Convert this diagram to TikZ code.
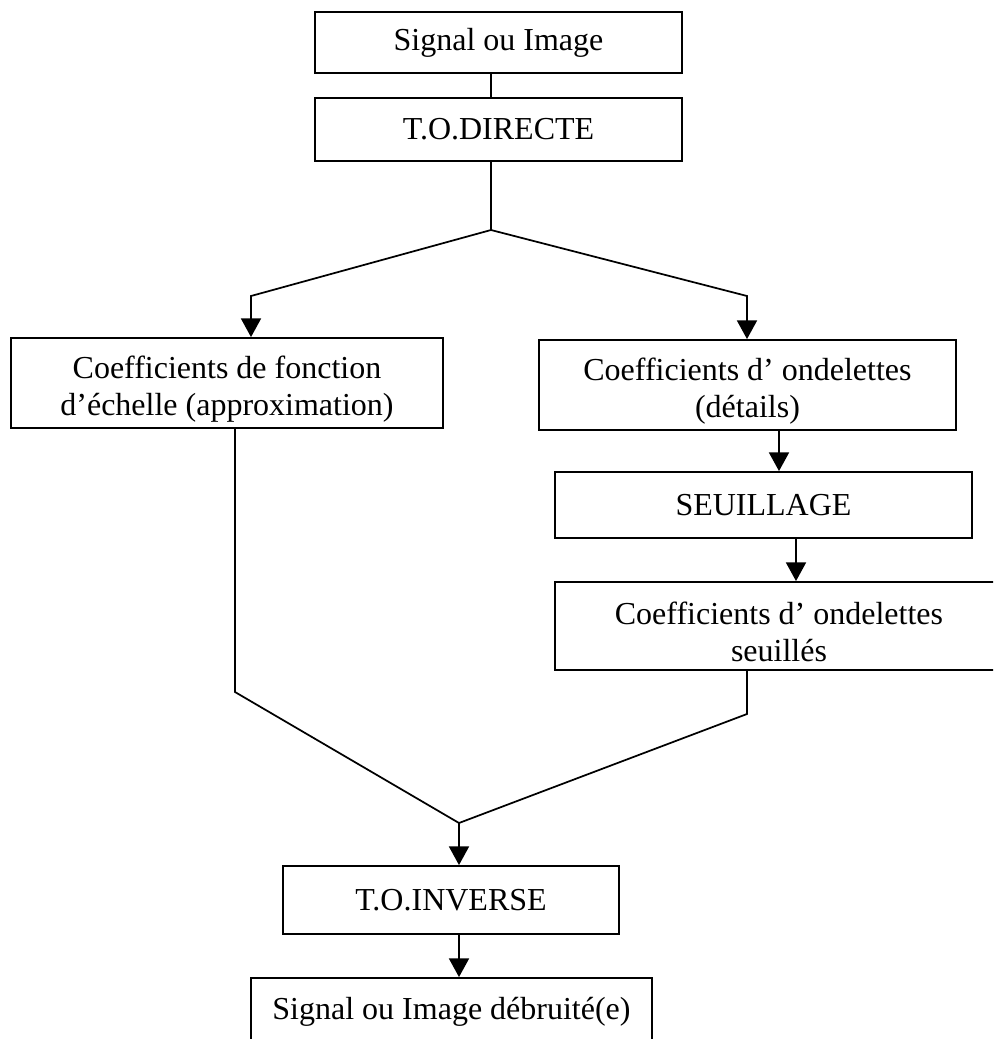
\documentclass[tikz,border=0pt]{standalone}
\usepackage{fontspec}
\setmainfont{Liberation Serif}
\usetikzlibrary{arrows.meta}
\begin{document}
\begin{tikzpicture}[
  x=0.75pt, y=-0.75pt,
  txt/.style={inner sep=0pt, align=center, font=\fontsize{24}{27.5}\selectfont},
  box/.style={draw=black, line width=1.4pt, rectangle, txt},
  % two-line blocks: the text sits a little low in its frame
  lowtext/.style={label={[txt, yshift=-4.5pt]center:{#1}}},
  link/.style={draw=black, line width=1.3pt},
  arr/.style={link, -{Triangle[width=15pt,length=14pt]}}
]
\useasboundingbox (0,0) rectangle (993,1039);
\fill[white] (0,0) rectangle (993,1039);
\clip (0,0) rectangle (993,1039);

% blocks of the processing chain
\node[box, minimum width=275.25pt, minimum height=45.75pt] (sig) at (498.5,42.5) {Signal ou Image};
\node[box, minimum width=275.25pt, minimum height=47.25pt] (tod) at (498.5,129.5) {T.O.DIRECTE};
\node[box, minimum width=324pt, minimum height=67.5pt,
      lowtext={Coefficients de fonction\\d’échelle (approximation)}] (coef) at (227,383) {};
\node[box, minimum width=312.75pt, minimum height=67.5pt,
      lowtext={Coefficients d’ ondelettes\\(détails)}] (ond) at (747.5,385) {};
\node[box, minimum width=312.75pt, minimum height=49.5pt] (seu) at (763.5,505) {SEUILLAGE};
\node[box, minimum width=336pt, minimum height=66pt,
      lowtext={Coefficients d’ ondelettes\\seuillés}] (seuil) at (779,626) {};
\node[box, minimum width=252pt, minimum height=51pt] (inv) at (451,900) {T.O.INVERSE};
\node[box, minimum width=300.75pt, minimum height=50.25pt] (out) at (451.5,1011.5) {Signal ou Image débruité(e)};

% bend points of the connectors
\coordinate (c1) at (491,0);
\coordinate (split) at (491,230);
\coordinate (lk) at (251,296);
\coordinate (rk) at (747,296);
\coordinate (a1) at (779,0);
\coordinate (a2) at (796,0);
\coordinate (lm) at (235,692);
\coordinate (rm) at (747,714);
\coordinate (merge) at (459,823);

% connectors
\draw[link] (sig.south -| c1) -- (tod.north -| c1);
\draw[link] (tod.south -| split) -- (split);
\draw[arr] (split) -- (lk) -- (lk |- coef.north);
\draw[arr] (split) -- (rk) -- (rk |- ond.north);
\draw[arr] (ond.south -| a1) -- (seu.north -| a1);
\draw[arr] (seu.south -| a2) -- (seuil.north -| a2);
\draw[link] (coef.south -| lm) -- (lm) -- (merge);
\draw[link] (seuil.south -| rm) -- (rm) -- (merge);
\draw[arr] (merge) -- (inv.north -| merge);
\draw[arr] (inv.south -| merge) -- (out.north -| merge);
\end{tikzpicture}
\end{document}
